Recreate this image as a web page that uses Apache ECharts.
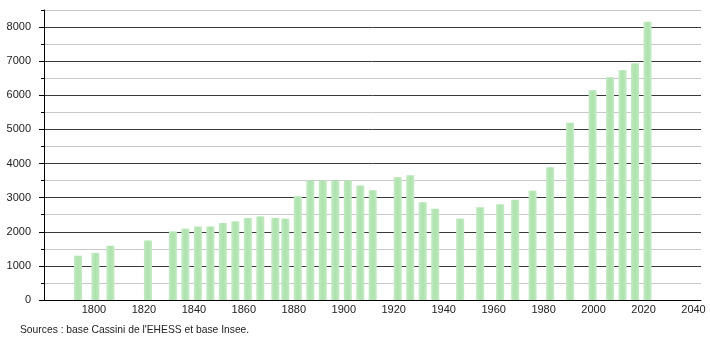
<!DOCTYPE html>
<html>
<head>
<meta charset="utf-8">
<script src="https://cdn.jsdelivr.net/npm/echarts@6/dist/echarts.min.js"></script>
<style>
html,body{margin:0;padding:0;background:#fff;}
#c{width:710px;height:340px;}
</style>
</head>
<body>
<div id="c"></div>
<script>
const years = [1793,1800,1806,1821,1831,1836,1841,1846,1851,1856,1861,1866,1872,1876,1881,1886,1891,1896,1901,1906,1911,1921,1926,1931,1936,1946,1954,1962,1968,1975,1982,1990,1999,2006,2011,2016,2021];
const population = [1300,1380,1590,1745,2010,2090,2155,2155,2255,2305,2400,2450,2405,2385,3040,3500,3500,3500,3500,3355,3215,3600,3655,2865,2675,2385,2715,2805,2940,3205,3890,5195,6145,6530,6735,6940,8155];
const yTickLabels = [0,1000,2000,3000,4000,5000,6000,7000,8000];
const yMinorTicks = [500,1500,2500,3500,4500,5500,6500,7500,8500];
const xTickLabels = [1800,1820,1840,1860,1880,1900,1920,1940,1960,1980,2000,2020,2040];
const sourceText = "Sources : base Cassini de l'EHESS et base Insee.";

const chart = echarts.init(document.getElementById('c'), null, {renderer:'canvas'});
const font = {fontFamily:'Liberation Sans, Arial, sans-serif', fontSize:11, color:'#222'};
chart.setOption({
  animation:false,
  backgroundColor:'#fff',
  grid:{left:44, right:9, top:10, bottom:40, containLabel:false},
  graphic:[{type:'text', left:20, top:325, style:{text:sourceText, fill:'#222', font:'10.3px "Liberation Sans", Arial, sans-serif'}}],
  xAxis:{
    type:'value', min:1779.4, max:2042.4,
    axisLine:{show:true, onZero:false, lineStyle:{color:'#000', width:1}},
    axisTick:{show:false},
    splitLine:{show:false},
    axisLabel:Object.assign({customValues:xTickLabels, margin:4, padding:[0,3,0,0], formatter:v=>String(v)}, font)
  },
  yAxis:[{
    type:'value', min:0, max:8500, interval:500,
    axisLine:{show:false},
    axisTick:{show:true, customValues:yMinorTicks, length:3, lineStyle:{color:'#000'}},
    axisLabel:{show:false},
    splitLine:{show:true, lineStyle:{color:'#c8c8c8', width:1}}
  },{
    type:'value', min:0, max:8500, interval:500, position:'left',
    axisLine:{show:true, lineStyle:{color:'#000', width:1}},
    axisTick:{show:true, customValues:yTickLabels, length:5, lineStyle:{color:'#000'}},
    axisLabel:Object.assign({customValues:yTickLabels, margin:13, formatter:v=>String(v)}, font),
    splitLine:{show:true, lineStyle:{color:'#3a3a3a', width:1}}
  }],
  series:[{
    type:'bar',
    yAxisIndex:0,
    barWidth:8,
    data:years.map((y,i)=>[y,population[i]]),
    itemStyle:{color:new echarts.graphic.LinearGradient(0,0,1,0,[
      {offset:0,color:'#c2eac2'},{offset:0.5,color:'#ade2ad'},{offset:1,color:'#c2eac2'}])}
  }]
});
</script>
</body>
</html>
